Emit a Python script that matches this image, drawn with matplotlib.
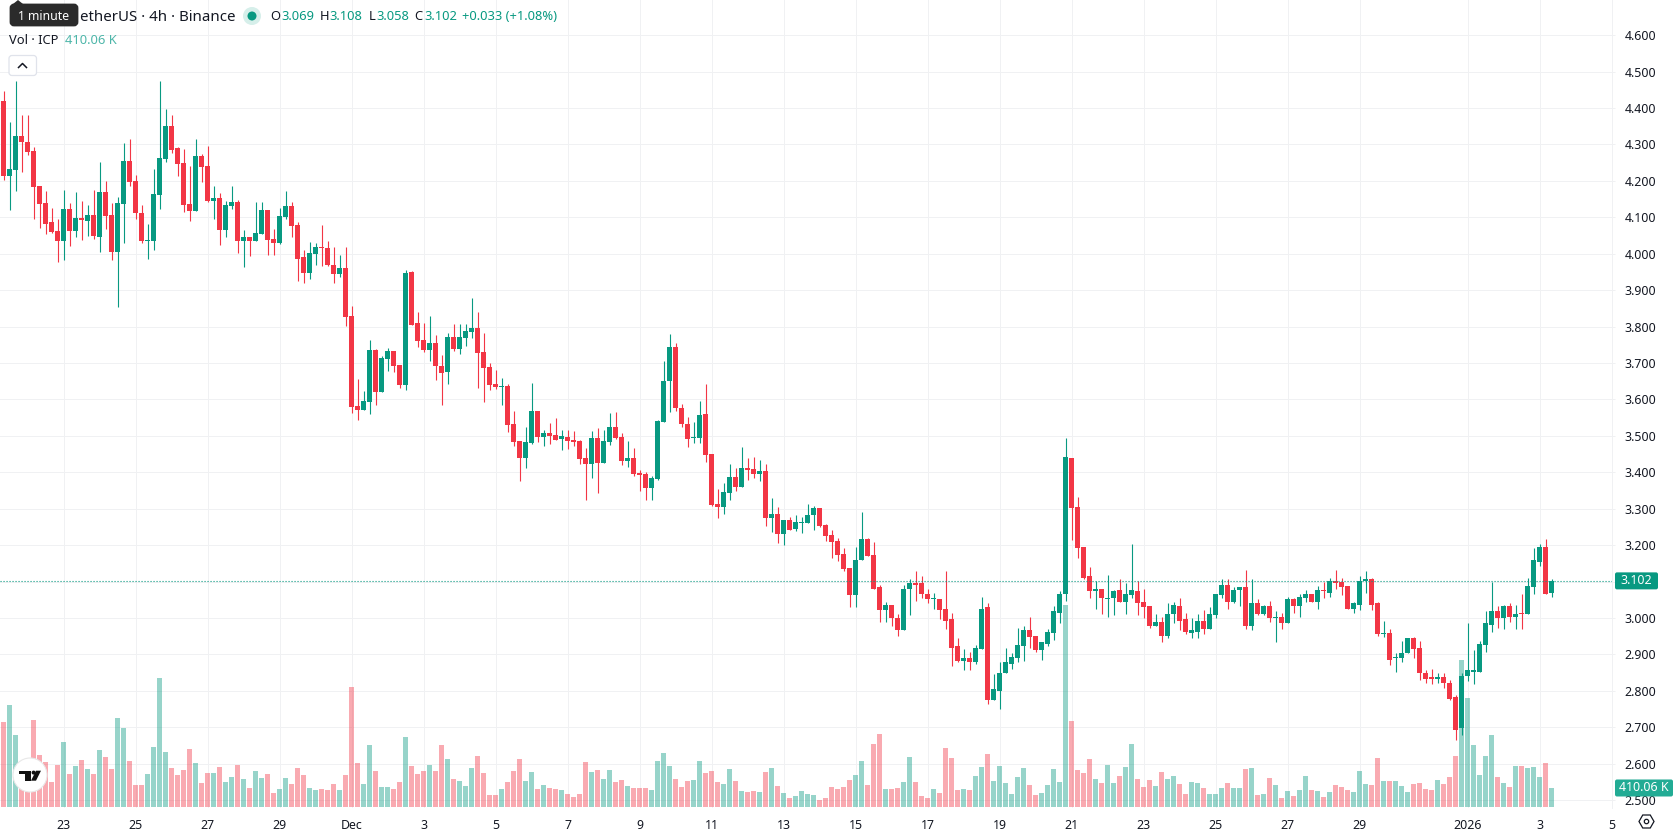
import numpy as np
import matplotlib
matplotlib.use("Agg")
import matplotlib.pyplot as plt
from matplotlib.patches import Circle, FancyBboxPatch, Polygon, Rectangle, RegularPolygon

opens = [
    4.419, 4.214, 4.229, 4.323, 4.306, 4.282, 4.186, 4.139, 4.087, 4.062,
    4.035, 4.122, 4.062, 4.098, 4.089, 4.106, 4.046, 4.169, 4.106, 4.004,
    4.136, 4.254, 4.199, 4.111, 4.035, 4.035, 4.161, 4.260, 4.350, 4.290,
    4.249, 4.136, 4.117, 4.268, 4.240, 4.144, 4.153, 4.065, 4.131, 4.142,
    4.035, 4.046, 4.035, 4.054, 4.120, 4.040, 4.029, 4.100, 4.131, 4.078,
    3.991, 3.947, 3.999, 4.018, 4.015, 3.969, 3.944, 3.961, 3.829, 3.582,
    3.571, 3.593, 3.736, 3.621, 3.711, 3.733, 3.695, 3.640, 3.950, 3.810,
    3.763, 3.736, 3.755, 3.692, 3.675, 3.772, 3.739, 3.769, 3.785, 3.796,
    3.730, 3.689, 3.643, 3.634, 3.637, 3.533, 3.486, 3.439, 3.481, 3.568,
    3.497, 3.508, 3.503, 3.492, 3.497, 3.489, 3.486, 3.439, 3.423, 3.494,
    3.426, 3.483, 3.525, 3.497, 3.431, 3.439, 3.398, 3.396, 3.357, 3.382,
    3.538, 3.651, 3.743, 3.576, 3.532, 3.493, 3.493, 3.559, 3.450, 3.312,
    3.304, 3.343, 3.386, 3.359, 3.411, 3.408, 3.395, 3.403, 3.274, 3.285,
    3.230, 3.268, 3.244, 3.260, 3.260, 3.282, 3.301, 3.255, 3.227, 3.211,
    3.175, 3.137, 3.063, 3.159, 3.216, 3.172, 3.084, 3.023, 3.037, 3.001,
    2.966, 3.081, 3.097, 3.095, 3.067, 3.051, 3.053, 3.026, 2.996, 2.922,
    2.881, 2.889, 2.878, 2.916, 3.029, 2.776, 2.801, 2.848, 2.875, 2.889,
    2.922, 2.968, 2.952, 2.911, 2.930, 2.960, 3.015, 3.065, 3.438, 3.306,
    3.194, 3.114, 3.073, 3.081, 3.053, 3.056, 3.076, 3.043, 3.062, 3.073,
    3.043, 3.032, 2.977, 2.988, 2.952, 3.010, 3.034, 2.996, 2.960, 2.963,
    2.993, 2.971, 3.007, 3.062, 3.092, 3.045, 3.076, 3.084, 2.979, 3.040,
    3.010, 3.032, 3.001, 3.004, 2.985, 3.051, 3.032, 3.056, 3.065, 3.043,
    3.076, 3.070, 3.103, 3.100, 3.087, 3.026, 3.037, 3.103, 3.106, 3.040,
    2.955, 2.960, 2.889, 2.889, 2.903, 2.944, 2.919, 2.850, 2.837, 2.834,
    2.837, 2.823, 2.782, 2.697, 2.840, 2.853, 2.853, 2.927, 2.982, 3.018,
    3.001, 3.034, 3.004, 3.012, 3.010, 3.084, 3.155, 3.196, 3.069,
]
highs = [
    4.446, 4.361, 4.474, 4.380, 4.380, 4.293, 4.187, 4.172, 4.125, 4.095,
    4.175, 4.139, 4.169, 4.144, 4.133, 4.175, 4.251, 4.199, 4.139, 4.156,
    4.304, 4.315, 4.216, 4.133, 4.081, 4.232, 4.474, 4.397, 4.380, 4.293,
    4.287, 4.240, 4.315, 4.273, 4.295, 4.186, 4.166, 4.144, 4.187, 4.147,
    4.065, 4.046, 4.142, 4.142, 4.120, 4.068, 4.125, 4.172, 4.142, 4.087,
    4.010, 4.032, 4.029, 4.078, 4.035, 4.018, 3.996, 4.019, 3.857, 3.656,
    3.623, 3.763, 3.739, 3.719, 3.741, 3.733, 3.695, 3.955, 3.953, 3.840,
    3.810, 3.829, 3.777, 3.722, 3.783, 3.807, 3.807, 3.807, 3.879, 3.840,
    3.783, 3.700, 3.681, 3.659, 3.643, 3.568, 3.486, 3.525, 3.645, 3.568,
    3.516, 3.535, 3.549, 3.516, 3.516, 3.514, 3.489, 3.467, 3.514, 3.522,
    3.516, 3.563, 3.566, 3.508, 3.486, 3.467, 3.406, 3.401, 3.390, 3.544,
    3.706, 3.780, 3.754, 3.587, 3.551, 3.537, 3.595, 3.642, 3.450, 3.354,
    3.370, 3.422, 3.411, 3.469, 3.439, 3.441, 3.433, 3.422, 3.329, 3.304,
    3.268, 3.277, 3.282, 3.277, 3.312, 3.307, 3.301, 3.257, 3.241, 3.219,
    3.192, 3.137, 3.194, 3.290, 3.219, 3.208, 3.090, 3.043, 3.037, 3.010,
    3.092, 3.106, 3.128, 3.114, 3.081, 3.070, 3.053, 3.128, 3.015, 2.946,
    2.914, 2.908, 2.927, 3.059, 3.040, 2.845, 2.878, 2.919, 2.903, 2.974,
    2.979, 3.004, 2.952, 2.933, 2.971, 3.034, 3.073, 3.495, 3.438, 3.331,
    3.196, 3.139, 3.103, 3.081, 3.117, 3.078, 3.108, 3.095, 3.204, 3.103,
    3.081, 3.032, 3.010, 3.004, 3.040, 3.043, 3.054, 3.015, 3.001, 3.010,
    3.023, 3.029, 3.065, 3.106, 3.106, 3.086, 3.084, 3.133, 3.106, 3.051,
    3.037, 3.048, 3.018, 3.015, 3.059, 3.056, 3.067, 3.078, 3.067, 3.089,
    3.098, 3.111, 3.133, 3.111, 3.087, 3.045, 3.114, 3.130, 3.111, 3.043,
    2.993, 2.969, 2.905, 2.936, 2.944, 2.949, 2.936, 2.856, 2.861, 2.850,
    2.848, 2.829, 2.790, 2.850, 2.985, 2.911, 2.938, 3.018, 3.098, 3.032,
    3.037, 3.040, 3.037, 3.067, 3.109, 3.191, 3.202, 3.218, 3.108,
]
lows = [
    4.202, 4.120, 4.172, 4.224, 4.271, 4.095, 4.070, 4.054, 4.057, 3.977,
    3.982, 4.021, 4.046, 4.037, 4.048, 4.040, 4.004, 4.068, 3.982, 3.854,
    4.029, 4.186, 4.095, 4.029, 3.985, 4.010, 4.122, 4.251, 4.276, 4.213,
    4.114, 4.089, 4.117, 4.197, 4.142, 4.095, 4.024, 4.046, 4.122, 4.002,
    3.963, 3.993, 4.035, 4.054, 3.996, 3.996, 4.026, 4.095, 4.046, 3.925,
    3.919, 3.930, 3.969, 3.966, 3.966, 3.919, 3.936, 3.802, 3.563, 3.544,
    3.571, 3.560, 3.585, 3.621, 3.678, 3.675, 3.632, 3.626, 3.804, 3.744,
    3.730, 3.706, 3.654, 3.585, 3.643, 3.733, 3.725, 3.747, 3.769, 3.632,
    3.593, 3.626, 3.629, 3.585, 3.511, 3.472, 3.376, 3.412, 3.478, 3.483,
    3.472, 3.478, 3.489, 3.461, 3.464, 3.472, 3.423, 3.324, 3.385, 3.343,
    3.426, 3.475, 3.492, 3.420, 3.415, 3.390, 3.349, 3.324, 3.324, 3.379,
    3.538, 3.566, 3.568, 3.524, 3.469, 3.480, 3.480, 3.428, 3.307, 3.274,
    3.285, 3.323, 3.348, 3.359, 3.378, 3.384, 3.375, 3.252, 3.235, 3.205,
    3.200, 3.241, 3.238, 3.233, 3.260, 3.241, 3.249, 3.211, 3.164, 3.156,
    3.128, 3.030, 3.030, 3.159, 3.170, 3.079, 2.990, 2.988, 2.979, 2.952,
    2.966, 3.007, 3.048, 3.056, 3.040, 3.026, 2.996, 2.971, 2.867, 2.878,
    2.856, 2.856, 2.875, 2.916, 2.765, 2.776, 2.749, 2.848, 2.861, 2.878,
    2.881, 2.919, 2.908, 2.886, 2.922, 2.941, 2.985, 3.048, 3.215, 3.166,
    3.108, 3.056, 3.026, 3.012, 3.004, 3.007, 3.043, 3.010, 3.056, 3.007,
    2.999, 2.974, 2.977, 2.933, 2.946, 2.985, 2.966, 2.957, 2.944, 2.946,
    2.955, 2.971, 2.999, 3.056, 3.026, 3.040, 3.032, 2.971, 2.968, 3.007,
    3.007, 2.990, 2.933, 2.971, 2.985, 3.015, 3.004, 3.043, 3.043, 3.026,
    3.054, 3.059, 3.081, 3.062, 3.026, 3.015, 3.021, 3.070, 3.023, 2.952,
    2.949, 2.872, 2.853, 2.878, 2.903, 2.889, 2.831, 2.823, 2.818, 2.823,
    2.807, 2.776, 2.664, 2.680, 2.826, 2.818, 2.853, 2.908, 2.963, 2.974,
    2.969, 2.988, 2.971, 2.969, 3.010, 3.067, 3.144, 3.065, 3.058,
]
closes = [
    4.214, 4.232, 4.323, 4.306, 4.280, 4.184, 4.136, 4.081, 4.059, 4.035,
    4.122, 4.062, 4.098, 4.092, 4.106, 4.048, 4.169, 4.103, 4.004, 4.139,
    4.254, 4.197, 4.111, 4.035, 4.037, 4.164, 4.262, 4.350, 4.284, 4.246,
    4.133, 4.117, 4.268, 4.238, 4.144, 4.153, 4.065, 4.133, 4.142, 4.035,
    4.046, 4.035, 4.057, 4.120, 4.037, 4.029, 4.103, 4.131, 4.076, 3.985,
    3.947, 4.002, 4.018, 4.015, 3.969, 3.944, 3.960, 3.826, 3.579, 3.571,
    3.596, 3.736, 3.621, 3.714, 3.733, 3.692, 3.640, 3.947, 3.804, 3.761,
    3.736, 3.755, 3.692, 3.673, 3.772, 3.739, 3.772, 3.788, 3.796, 3.728,
    3.686, 3.640, 3.634, 3.637, 3.530, 3.483, 3.439, 3.483, 3.568, 3.497,
    3.508, 3.500, 3.489, 3.500, 3.486, 3.483, 3.437, 3.423, 3.494, 3.426,
    3.486, 3.525, 3.494, 3.431, 3.439, 3.396, 3.393, 3.357, 3.385, 3.541,
    3.651, 3.744, 3.576, 3.532, 3.491, 3.495, 3.557, 3.447, 3.310, 3.304,
    3.345, 3.386, 3.359, 3.411, 3.406, 3.395, 3.403, 3.274, 3.285, 3.230,
    3.268, 3.241, 3.263, 3.263, 3.282, 3.301, 3.252, 3.225, 3.208, 3.172,
    3.134, 3.063, 3.159, 3.216, 3.170, 3.079, 3.023, 3.037, 2.999, 2.966,
    3.081, 3.097, 3.092, 3.065, 3.051, 3.053, 3.023, 2.993, 2.919, 2.881,
    2.889, 2.878, 2.919, 3.026, 2.774, 2.804, 2.850, 2.878, 2.892, 2.925,
    2.966, 2.949, 2.911, 2.933, 2.963, 3.018, 3.067, 3.441, 3.303, 3.191,
    3.111, 3.073, 3.081, 3.056, 3.056, 3.073, 3.043, 3.067, 3.076, 3.040,
    3.029, 2.979, 2.988, 2.952, 3.012, 3.037, 2.993, 2.963, 2.966, 2.993,
    2.971, 3.010, 3.065, 3.092, 3.045, 3.076, 3.084, 2.979, 3.040, 3.012,
    3.032, 3.001, 3.004, 2.985, 3.051, 3.032, 3.059, 3.065, 3.043, 3.076,
    3.073, 3.103, 3.095, 3.084, 3.026, 3.040, 3.103, 3.106, 3.037, 2.955,
    2.960, 2.886, 2.892, 2.903, 2.944, 2.916, 2.848, 2.834, 2.834, 2.837,
    2.823, 2.779, 2.694, 2.842, 2.856, 2.856, 2.930, 2.985, 3.018, 3.001,
    3.032, 3.004, 3.012, 3.010, 3.087, 3.158, 3.196, 3.067, 3.102,
]
# volume in thousands of ICP
volumes = [
    1833, 2200, 1553, 582, 726, 1877, 1122, 971, 539, 906,
    1402, 712, 884, 1014, 820, 712, 1229, 1079, 820, 1920,
    1704, 992, 475, 475, 712, 1294, 2783, 1186, 841, 690,
    798, 1251, 949, 518, 733, 733, 863, 539, 647, 906,
    604, 410, 777, 626, 712, 302, 388, 626, 496, 841,
    690, 410, 367, 388, 367, 496, 367, 690, 2588, 949,
    496, 1337, 777, 431, 431, 388, 539, 1510, 884, 712,
    777, 906, 777, 1337, 1035, 604, 561, 453, 841, 1100,
    733, 259, 259, 388, 539, 777, 1035, 561, 755, 388,
    475, 410, 388, 367, 280, 216, 280, 971, 755, 798,
    604, 798, 539, 582, 453, 410, 410, 410, 367, 992,
    1165, 884, 604, 431, 561, 582, 992, 733, 777, 539,
    496, 820, 561, 345, 324, 345, 324, 755, 841, 453,
    302, 194, 237, 345, 280, 259, 151, 194, 431, 388,
    431, 582, 690, 992, 475, 1359, 1575, 388, 388, 410,
    539, 1079, 539, 237, 194, 388, 302, 1273, 1057, 367,
    388, 367, 669, 863, 1143, 561, 884, 518, 280, 647,
    841, 475, 259, 302, 475, 820, 539, 4357, 1855, 798,
    733, 1035, 604, 518, 906, 518, 669, 863, 1359, 604,
    431, 582, 453, 755, 604, 669, 496, 280, 539, 518,
    410, 280, 280, 410, 518, 410, 410, 820, 841, 259,
    280, 626, 475, 194, 345, 237, 367, 669, 367, 345,
    216, 324, 475, 431, 367, 324, 777, 496, 475, 1057,
    561, 561, 561, 453, 324, 496, 518, 388, 367, 582,
    496, 647, 1100, 3171, 2351, 1337, 690, 1100, 1553, 647,
    518, 431, 884, 884, 841, 863, 647, 949, 410.06,
]

price_ticks = [2.5, 2.6, 2.7, 2.8, 2.9, 3.0, 3.1, 3.2, 3.3, 3.4, 3.5,
               3.6, 3.7, 3.8, 3.9, 4.0, 4.1, 4.2, 4.3, 4.4, 4.5, 4.6]
date_ticks = [10, 22, 34, 46, 58, 70, 82, 94, 106, 118, 130, 142, 154, 166,
              178, 190, 202, 214, 226, 244, 256, 268]
date_labels = ["23", "25", "27", "29", "Dec", "3", "5", "7", "9", "11", "13",
               "15", "17", "19", "21", "23", "25", "27", "29", "2026", "3", "5"]
last_price = 3.102
last_volume = 410.06

UP = "#089981"
DOWN = "#F23645"
GRID = "#F0F1F3"
TEXT = "#131722"
FONT = "Noto Sans"

plt.rcParams["font.family"] = [FONT, "DejaVu Sans"]

W, H = 1678, 835
PANE_W, PANE_H = 1612, 808
PX_PER_UNIT = 364.3   # pixels per 1.0 of price
CANDLE_PX = 6.0
KVOL_PER_PX = 21.57

o = np.array(opens)
h = np.array(highs)
l = np.array(lows)
c = np.array(closes)
v = np.array(volumes)
x = np.arange(len(o))
colors = np.where(c >= o, UP, DOWN)

fig = plt.figure(figsize=(W / 100, H / 100), dpi=100, facecolor="white")
rect = [0, (H - PANE_H) / H, PANE_W / W, PANE_H / H]
xlim = (-3.5 / CANDLE_PX, (PANE_W - 3.5) / CANDLE_PX)
ylim = (4.1 - (PANE_H - 217.3) / PX_PER_UNIT, 4.1 + 217.3 / PX_PER_UNIT)

# grid and axis labels sit on the bottom layer
ax = fig.add_axes(rect, zorder=1)
ax.set_xlim(xlim)
ax.set_ylim(ylim)
ax.set_xticks(date_ticks)
ax.set_xticklabels(date_labels, fontsize=8.9, color=TEXT)
ax.set_yticks(price_ticks)
ax.set_yticklabels([f"{p:.3f}" for p in price_ticks], fontsize=8.9, color=TEXT)
ax.grid(True, color=GRID, lw=0.72)
ax.set_axisbelow(True)
for name, sp in ax.spines.items():
    sp.set_visible(name == "right")
ax.spines["right"].set_color(GRID)
ax.spines["right"].set_linewidth(0.72)
for lab, txt in zip(ax.get_xticklabels(), date_labels):
    if txt == "2026":
        lab.set_fontweight("bold")

# volume histogram
ax_vol = ax.twinx()
ax_vol.set_zorder(2)
ax_vol.patch.set_visible(False)
ax_vol.set_ylim(-KVOL_PER_PX, (PANE_H - 1) * KVOL_PER_PX)
ax_vol.bar(x, v, width=5 / CANDLE_PX, color=colors, alpha=0.42, linewidth=0)
ax_vol.axis("off")

# candles on top
ax_c = ax.twinx()
ax_c.set_zorder(3)
ax_c.patch.set_visible(False)
ax_c.set_ylim(ylim)
ax_c.vlines(x, l, h, colors=colors, lw=0.8)
bottoms = np.minimum(o, c)
heights = np.maximum(np.abs(c - o), 0.003)
ax_c.bar(x, heights, bottom=bottoms, width=5 / CANDLE_PX, color=colors, linewidth=0)
ax_c.axhline(last_price, color=UP, lw=0.8, ls=(0, (1.0, 1.7)))
ax_c.axis("off")

# twinx moves the ticks back to the left, so set the price scale side last
ax.yaxis.tick_right()
ax.tick_params(axis="y", length=2, width=0.72, color=GRID, pad=7)
ax.tick_params(axis="x", length=0, pad=8)

# header, legend text and badges drawn in pixel coordinates
ui = fig.add_axes([0, 0, 1, 1], zorder=5)
ui.set_xlim(0, W)
ui.set_ylim(H, 0)
ui.axis("off")
ui.patch.set_visible(False)

ui.text(235, 17.5, "etherUS · 4h · Binance", fontsize=10.8, color=TEXT,
        ha="right", va="center")

ui.add_patch(Polygon([[13, 4], [18, 0], [23, 4]], color="#2B2B2B", lw=0))
ui.add_patch(FancyBboxPatch((11, 5), 66, 20, boxstyle="round,pad=0,rounding_size=3",
                            fc="#2B2B2B", ec="#2B2B2B", lw=2))
ui.text(18, 16, "1 minute", fontsize=8.8, color="white", va="center")

ui.add_patch(Circle((252, 16), 9, fc="#D6EFEA", lw=0))
ui.add_patch(Circle((252, 16), 4.5, fc=UP, lw=0))

ohlc = [("O", 270, "3.069", 281), ("H", 320, "3.108", 329),
        ("L", 368.5, "3.058", 376), ("C", 414, "3.102", 424)]
for key, kx, val, vx in ohlc:
    ui.text(kx, 17, key, fontsize=9.3, color=TEXT, va="center")
    ui.text(vx, 17, val, fontsize=9.3, color=UP, va="center")
ui.text(462, 17, "+0.033 (+1.08%)", fontsize=9.3, color=UP, va="center")

ui.text(9, 40.5, "Vol · ICP", fontsize=9.3, color=TEXT, va="center")
ui.text(65, 40.5, "410.06 K", fontsize=9.3, color="#4DB6A9", va="center")

ui.add_patch(FancyBboxPatch((9, 55.5), 27.5, 20, boxstyle="round,pad=0,rounding_size=3",
                            fc="white", ec="#E0E3EB", lw=0.9))
ui.plot([18.5, 22.5, 26.5], [67.5, 63.5, 67.5], color=TEXT, lw=1.1)

# logo badge
ui.add_patch(Circle((30, 775), 17, fc="white", ec="#E8E8E8", lw=0.8))
ui.add_patch(Rectangle((19, 770.7), 11.5, 3.6, fc="#111111", lw=0))
ui.add_patch(Rectangle((25.2, 770.7), 5.3, 10, fc="#111111", lw=0))
ui.add_patch(Circle((33.6, 772.6), 2, fc="#111111", lw=0))
ui.add_patch(Polygon([[36, 770.7], [41, 770.7], [36, 780.7], [31, 780.7]], fc="#111111", lw=0))

# last value badges on the price scale
y_price = 217.3 + (4.1 - last_price) * PX_PER_UNIT
ui.add_patch(FancyBboxPatch((1615, y_price - 8.5), 43, 17, boxstyle="round,pad=0,rounding_size=2",
                            fc=UP, lw=0))
ui.text(1636.5, y_price, f"{last_price:.3f}", fontsize=8.9, color="white", ha="center", va="center")
y_vol = 807 - last_volume / KVOL_PER_PX
ui.add_patch(FancyBboxPatch((1615, y_vol - 8.5), 58, 17, boxstyle="round,pad=0,rounding_size=2",
                            fc="#22AB94", lw=0))
ui.text(1644, y_vol, "410.06 K", fontsize=8.9, color="white", ha="center", va="center")

# settings button
ui.add_patch(RegularPolygon((1646.5, 821.5), 6, radius=7.5, orientation=np.pi / 6,
                            fc="white", ec=TEXT, lw=0.9))
ui.add_patch(Circle((1646.5, 821.5), 2.2, fc="white", ec=TEXT, lw=0.9))

fig.savefig("out.png", dpi=100)
